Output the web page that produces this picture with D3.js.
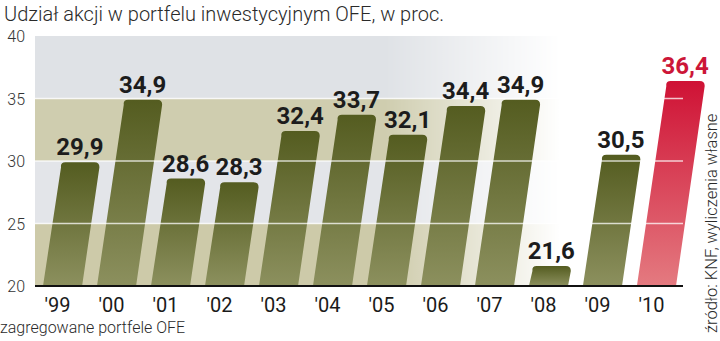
<!DOCTYPE html>
<html><head><meta charset="utf-8">
<script src="https://cdn.jsdelivr.net/npm/d3@7/dist/d3.min.js"></script>
<style>
html,body{margin:0;padding:0;background:#fff;}
svg{display:block;}
</style></head>
<body>
<svg id="c" width="720" height="341"></svg>
<script>
const years = ["'99","'00","'01","'02","'03","'04","'05","'06","'07","'08","'09","'10"];
const values = [29.9,34.9,28.6,28.3,32.4,33.7,32.1,34.4,34.9,21.6,30.5,36.4];
const valueLabels = ["29,9","34,9","28,6","28,3","32,4","33,7","32,1","34,4","34,9","21,6","30,5","36,4"];
const yTicks = [20,25,30,35,40];
const highlight = ["'10"];
const title = "Udział akcji w portfelu inwestycyjnym OFE, w proc.";
const footnote = "zagregowane portfele OFE";
const source = "źródło: KNF, wyliczenia własne";

const svg = d3.select("#c");
const y = d3.scaleLinear().domain([20,40]).range([286,36]);
const x = d3.scaleBand().domain(years).range([43,676]).paddingInner(0.276).paddingOuter(0);
const slant = 0.14;
const w = x.bandwidth();

const defs = svg.append("defs");
const fade = defs.append("linearGradient").attr("id","fade").attr("gradientUnits","userSpaceOnUse")
  .attr("x1",35).attr("x2",600).attr("y1",0).attr("y2",0);
fade.append("stop").attr("offset","0").attr("stop-color","#fff").attr("stop-opacity",1);
fade.append("stop").attr("offset","0.62").attr("stop-color","#fff").attr("stop-opacity",1);
fade.append("stop").attr("offset","0.93").attr("stop-color","#fff").attr("stop-opacity",0);
const mask = defs.append("mask").attr("id","fm");
mask.append("rect").attr("x",0).attr("y",0).attr("width",720).attr("height",341).attr("fill","url(#fade)");

const g1 = defs.append("linearGradient").attr("id","olive").attr("x1",0).attr("x2",0).attr("y1",0).attr("y2",1);
g1.append("stop").attr("offset","0").attr("stop-color","#545c20");
g1.append("stop").attr("offset","1").attr("stop-color","#8c905e");
const g2 = defs.append("linearGradient").attr("id","red").attr("x1",0).attr("x2",0).attr("y1",0).attr("y2",1);
g2.append("stop").attr("offset","0").attr("stop-color","#cf1235");
g2.append("stop").attr("offset","1").attr("stop-color","#e47a80");

// background bands
const bandColors = ["#cdcaa9","#e3e5e9","#cfcdaf","#dfe2e6"];
const bg = svg.append("g").attr("mask","url(#fm)");
for (let i=0;i<4;i++){
  bg.append("rect").attr("x",35).attr("width",648)
    .attr("y",y(yTicks[i+1])).attr("height",y(yTicks[i])-y(yTicks[i+1]))
    .attr("fill",bandColors[i]);
}

// bars
function barPath(d,i){
  const x0 = x(years[i]);
  const yb = y(20), yt = y(d);
  const h = yb-yt;
  const s = slant*h;
  const r = 5;
  const tl = x0+s, tr = x0+w+s;
  const p = d3.path();
  p.moveTo(x0,yb);
  p.lineTo(x0+w,yb);
  p.lineTo(tr, yt + r);
  p.quadraticCurveTo(tr, yt, tr - r, yt);
  p.lineTo(tl + r, yt);
  p.quadraticCurveTo(tl, yt, tl + slant*r, yt + r);
  p.closePath();
  return p.toString();
}
svg.append("g").selectAll("path").data(values).join("path")
  .attr("d",barPath)
  .attr("fill",(d,i)=>highlight.includes(years[i])?"url(#red)":"url(#olive)");

// gridlines
svg.append("g").selectAll("line").data(yTicks.slice(1,4)).join("line")
  .attr("x1",35).attr("x2",683).attr("y1",d=>y(d)).attr("y2",d=>y(d))
  .attr("stroke","#fff").attr("stroke-opacity",0.75).attr("stroke-width",1.5);

// baseline
svg.append("line").attr("x1",35).attr("x2",683).attr("y1",y(20)).attr("y2",y(20))
  .attr("stroke","#111").attr("stroke-width",2);

// value labels
svg.append("g").selectAll("text").data(values).join("text")
  .attr("x",(d,i)=>x(years[i]) + slant*(y(20)-y(d)) + w/2)
  .attr("y",d=>y(d)-7)
  .attr("text-anchor","middle")
  .attr("font-family","Roboto, 'Open Sans', sans-serif")
  .attr("font-weight","bold")
  .attr("font-size",24)
  .attr("fill",(d,i)=>highlight.includes(years[i])?"#cc1638":"#1c1c1c")
  .text((d,i)=>valueLabels[i]);

// y axis
const yAxis = d3.axisLeft(y).tickValues(yTicks).tickSize(0).tickPadding(0);
const ya = svg.append("g").attr("transform","translate(25,0)").call(yAxis);
ya.select(".domain").remove();
ya.selectAll("text").attr("font-family","Roboto, 'Open Sans', sans-serif").attr("font-weight",300)
  .attr("font-size",16).attr("fill","#333").attr("dy","0.35em");

// x axis
const xAxis = d3.axisBottom(x).tickSize(0).tickPadding(0);
const xa = svg.append("g").attr("transform",`translate(-5,${y(20)+26})`).call(xAxis);
xa.select(".domain").remove();
xa.selectAll("text").attr("font-family","Roboto, 'Open Sans', sans-serif").attr("font-weight",400)
  .attr("font-size",20).attr("fill","#1a1a1a").attr("dy",0);

// title
svg.append("text").attr("x",4).attr("y",21).text(title)
  .attr("font-family","Roboto, 'Open Sans', sans-serif").attr("font-weight",300)
  .attr("font-size",20).attr("fill","#2a2a2a");

// footnote
svg.append("text").attr("x",0).attr("y",333).text(footnote)
  .attr("font-family","Roboto, 'Open Sans', sans-serif").attr("font-weight",300)
  .attr("font-size",16).attr("fill","#2a2a2a");

// source
svg.append("text").attr("transform","translate(717,333) rotate(-90)").text(source)
  .attr("font-family","Roboto, 'Open Sans', sans-serif").attr("font-weight",300)
  .attr("font-size",16.5).attr("fill","#2a2a2a");
</script>
</body></html>
